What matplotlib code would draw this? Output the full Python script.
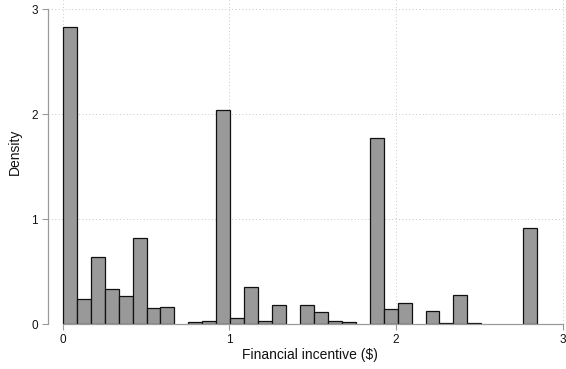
import matplotlib
matplotlib.use("Agg")
import matplotlib.pyplot as plt
import numpy as np

plt.rcParams['font.family'] = ['Liberation Sans', 'DejaVu Sans']

# Histogram data (density), bins start at 0 with equal width
bin_start = 0.0
bin_width = 0.0837
densities = [2.834, 0.241, 0.638, 0.333, 0.270, 0.819, 0.152, 0.162, 0.0,
             0.022, 0.031, 2.038, 0.057, 0.352, 0.035, 0.181, 0.0, 0.184,
             0.114, 0.031, 0.025, 0.0, 1.774, 0.146, 0.200, 0.0, 0.124,
             0.012, 0.276, 0.012, 0.0, 0.0, 0.0, 0.914]
x_ticks = [0, 1, 2, 3]
y_ticks = [0, 1, 2, 3]
x_label = "Financial incentive ($)"
y_label = "Density"

fig = plt.figure(figsize=(5.66, 3.69), dpi=100)
ax = fig.add_axes([47.7/566, (369-324.3)/369, 1-47.7/566, 324.3/369])

lefts = bin_start + bin_width*np.arange(len(densities))
for l, h in zip(lefts, densities):
    if h > 0:
        ax.bar(l, h, width=bin_width, align='edge', color='#999999',
               edgecolor='#111111', linewidth=0.9, zorder=3)

ax.set_xlim(-0.0906, 3.019)
ax.set_ylim(0, 3.09)

for v in y_ticks:
    ax.axhline(v, color='#c8c8c8', linestyle=(0, (1, 2.5)), linewidth=0.7, zorder=1)
for v in x_ticks:
    ax.axvline(v, color='#c8c8c8', linestyle=(0, (1, 2.5)), linewidth=0.7, zorder=1)

for s in ['top', 'right']:
    ax.spines[s].set_visible(False)
ax.spines['left'].set_bounds(0, 3)
ax.spines['bottom'].set_bounds(0, 3)
for s in ['left', 'bottom']:
    ax.spines[s].set_color('#9a9a9a')
    ax.spines[s].set_linewidth(0.9)
    ax.spines[s].set_zorder(4)

ax.set_xticks(x_ticks)
ax.set_yticks(y_ticks)
ax.set_xticklabels([str(t) for t in x_ticks])
ax.set_yticklabels([str(t) for t in y_ticks])
ax.tick_params(axis='both', direction='out', length=4, width=0.8, color='#9a9a9a',
               labelsize=8.5, labelcolor='#111111', pad=3)

fig.text(310/566, 1-355/369, x_label, ha='center', va='center', fontsize=10, color='#111111')
fig.text(15/566, 1-152/369, y_label, ha='center', va='center', rotation=90, fontsize=10, color='#111111')

fig.savefig("out.png", dpi=100)
